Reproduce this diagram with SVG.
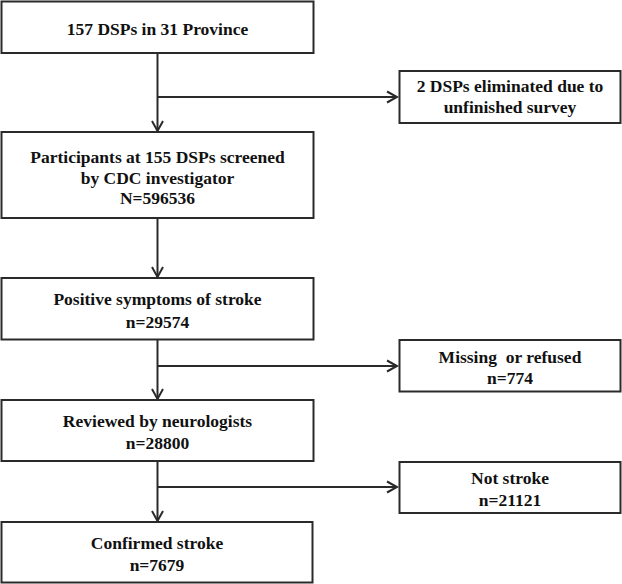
<svg xmlns="http://www.w3.org/2000/svg" width="622" height="584" viewBox="0 0 622 584">
<style>
.box{fill:#fff;stroke:#2a2a2a;stroke-width:2}
.t{font-family:'Liberation Serif','Times New Roman','DejaVu Serif',serif;font-size:17.5px;font-weight:bold;fill:#111;text-anchor:middle;white-space:pre}
.c{fill:none;stroke:#2a2a2a;stroke-width:2}
</style>
<defs>
<marker id="ah" viewBox="0 0 11 12" refX="10" refY="6" markerWidth="11" markerHeight="12" markerUnits="userSpaceOnUse" orient="auto" overflow="visible">
<path d="M0,0.5 L10,6 L0,11.5" fill="none" stroke="#2a2a2a" stroke-width="2"/>
</marker>
</defs>
<rect width="622" height="584" fill="#fff"/>
<g id="connectors">
<line class="c" x1="157.5" y1="53" x2="157.5" y2="131" marker-end="url(#ah)"/>
<line class="c" x1="157.5" y1="97" x2="397" y2="97" marker-end="url(#ah)"/>
<line class="c" x1="157.5" y1="218" x2="157.5" y2="277" marker-end="url(#ah)"/>
<line class="c" x1="157.5" y1="339.5" x2="157.5" y2="399" marker-end="url(#ah)"/>
<line class="c" x1="157.5" y1="366" x2="397" y2="366" marker-end="url(#ah)"/>
<line class="c" x1="157.5" y1="461" x2="157.5" y2="521" marker-end="url(#ah)"/>
<line class="c" x1="157.5" y1="487" x2="397" y2="487" marker-end="url(#ah)"/>
</g>
<g id="n1">
<rect class="box" x="1.5" y="1.5" width="312" height="51.5"/>
<text class="t" font-family="Liberation Serif, serif" x="157.5" y="35">157 DSPs in 31 Province</text>
</g>
<g id="n2">
<rect class="box" x="399.5" y="71" width="221" height="52"/>
<text class="t" x="510" y="92">2 DSPs eliminated due to</text>
<text class="t" x="510" y="113">unfinished survey</text>
</g>
<g id="n3">
<rect class="box" x="1.5" y="132" width="312" height="86"/>
<text class="t" x="157.5" y="162.5">Participants at 155 DSPs screened</text>
<text class="t" x="157.5" y="183.5">by CDC investigator</text>
<text class="t" x="157.5" y="204">N=596536</text>
</g>
<g id="n4">
<rect class="box" x="1.5" y="278" width="312" height="61.5"/>
<text class="t" x="157.5" y="305">Positive symptoms of stroke</text>
<text class="t" x="157.5" y="327.5">n=29574</text>
</g>
<g id="n5">
<rect class="box" x="399.5" y="340" width="221" height="51.5"/>
<text class="t" x="510" y="362.5">Missing  or refused</text>
<text class="t" x="510" y="384">n=774</text>
</g>
<g id="n6">
<rect class="box" x="1.5" y="400" width="312" height="61"/>
<text class="t" x="157.5" y="427">Reviewed by neurologists</text>
<text class="t" x="157.5" y="449">n=28800</text>
</g>
<g id="n7">
<rect class="box" x="399.5" y="462" width="221" height="51"/>
<text class="t" x="510" y="484">Not stroke</text>
<text class="t" x="510" y="505.5">n=21121</text>
</g>
<g id="n8">
<rect class="box" x="1.5" y="522" width="311" height="60.5"/>
<text class="t" x="157" y="549">Confirmed stroke</text>
<text class="t" x="157" y="570.5">n=7679</text>
</g>
</svg>
